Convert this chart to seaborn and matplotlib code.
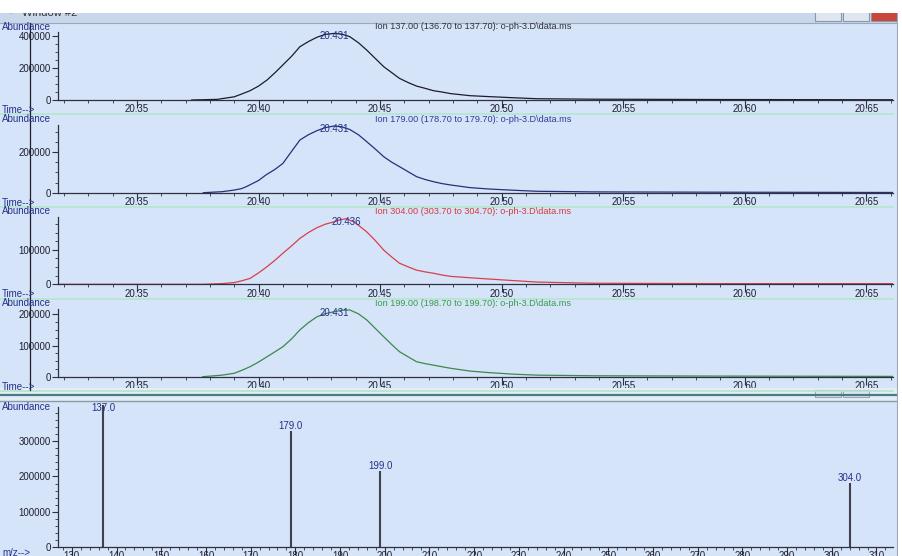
import numpy as np
import matplotlib.pyplot as plt
import seaborn as sns
from matplotlib.ticker import MultipleLocator, FormatStrFormatter
from matplotlib.patches import Rectangle
from matplotlib.lines import Line2D

# Ion 137 trace
ion137_time = [20.3725, 20.383, 20.390, 20.393, 20.3965, 20.400, 20.4035, 20.4068, 20.410,
               20.4137, 20.417, 20.4205, 20.424, 20.4274, 20.431, 20.4342, 20.4375, 20.4411,
               20.4445, 20.448, 20.4515, 20.4548, 20.458, 20.4617, 20.465, 20.4685, 20.472,
               20.4754, 20.479, 20.487, 20.495, 20.505, 20.5145, 20.538, 20.5885, 20.661]
ion137_abund = [0, 4000, 20000, 37000, 58000, 87000, 125000, 171000, 219000,
                275000, 333000, 365000, 392000, 410000, 416000, 412000, 396000, 358000,
                312000, 260000, 208000, 171000, 135000, 108000, 87000, 73000, 58000,
                50000, 40000, 27000, 21000, 14000, 8000, 5000, 3000, 1500]

# Ion 179 trace
ion179_time = [20.3773, 20.385, 20.390, 20.393, 20.395, 20.400, 20.403, 20.4068, 20.410,
               20.4137, 20.417, 20.4205, 20.424, 20.4274, 20.431, 20.4342, 20.4375, 20.4411,
               20.4445, 20.448, 20.4515, 20.4548, 20.458, 20.4617, 20.465, 20.4685, 20.472,
               20.4754, 20.479, 20.487, 20.495, 20.505, 20.5145, 20.538, 20.5885, 20.661]
ion179_abund = [0, 5000, 13000, 20000, 30000, 60000, 87000, 115000, 144000,
                205000, 259000, 285000, 305000, 320000, 328000, 324000, 311000, 285000,
                251000, 215000, 177000, 150000, 128000, 102000, 79000, 65000, 54000,
                45000, 38000, 25000, 18000, 12000, 7000, 4000, 2500, 1200]

# Ion 304 trace
ion304_time = [20.3175, 20.377, 20.385, 20.390, 20.393, 20.3965, 20.400, 20.4035, 20.4068,
               20.410, 20.4137, 20.417, 20.4205, 20.424, 20.4274, 20.431, 20.4335, 20.436,
               20.4395, 20.4445, 20.448, 20.4515, 20.4548, 20.458, 20.4617, 20.465, 20.4685,
               20.472, 20.4754, 20.479, 20.491, 20.5065, 20.5145, 20.538, 20.5885, 20.661]
ion304_abund = [0, 0, 2000, 5000, 10000, 17000, 33000, 51000, 70000,
                90000, 112000, 133000, 150000, 164000, 174000, 181000, 187000, 190000,
                180000, 152000, 127000, 99000, 79000, 61000, 50000, 41000, 36000,
                32000, 27000, 23000, 17000, 10000, 6500, 3000, 2000, 2000]

# Ion 199 trace
ion199_time = [20.377, 20.385, 20.390, 20.393, 20.3965, 20.400, 20.4035, 20.4068, 20.410,
               20.4137, 20.417, 20.4205, 20.424, 20.4274, 20.431, 20.4342, 20.4375, 20.441,
               20.4445, 20.448, 20.4515, 20.4548, 20.458, 20.4617, 20.465, 20.4685, 20.472,
               20.4754, 20.479, 20.487, 20.495, 20.505, 20.5145, 20.538, 20.5885, 20.661]
ion199_abund = [0, 5000, 11000, 20000, 32000, 47000, 64000, 80000, 96000,
                122000, 150000, 173000, 192000, 202000, 208000, 213000, 214000, 202000,
                182000, 155000, 128000, 103000, 80000, 63000, 48000, 42000, 37000,
                32000, 27000, 18000, 13000, 8000, 5000, 3000, 2000, 1000]

ion_titles = ['Ion 137.00 (136.70 to 137.70): o-ph-3.D\\data.ms',
              'Ion 179.00 (178.70 to 179.70): o-ph-3.D\\data.ms',
              'Ion 304.00 (303.70 to 304.70): o-ph-3.D\\data.ms',
              'Ion 199.00 (198.70 to 199.70): o-ph-3.D\\data.ms']
peak_labels = ['20.431', '20.431', '20.436', '20.431']

# mass spectrum
mz_values = [137.0, 179.0, 199.0, 304.0]
mz_abund = [405000, 331000, 216000, 181000]

W, H = 903, 556
bg = '#d5e4f9'
navy = '#26308a'

plt.rcParams['font.family'] = ['Liberation Sans', 'DejaVu Sans']

fig = plt.figure(figsize=(W / 100, H / 100), dpi=100, facecolor=bg)


def fx(x):
    return x / W


def fy(y):
    return 1 - y / H


def px_axes(top, bottom, left=58, right=893):
    ax = fig.add_axes([fx(left), fy(bottom), (right - left) / W, (bottom - top) / H])
    ax.set_facecolor('none')
    for s in ['top', 'right']:
        ax.spines[s].set_visible(False)
    for s in ['left', 'bottom']:
        ax.spines[s].set_color('#303040')
        ax.spines[s].set_linewidth(0.9)
    ax.tick_params(which='major', length=6, width=0.8, color='#303040',
                   labelsize=7, labelcolor='#202030')
    ax.tick_params(axis='x', which='major', pad=-2.8)
    ax.tick_params(which='minor', length=2.5, width=0.6, color='#303040')
    ax.tick_params(axis='y', which='major', length=4, pad=1)
    return ax


traces = [(ion137_time, ion137_abund), (ion179_time, ion179_abund),
          (ion304_time, ion304_abund), (ion199_time, ion199_abund)]
line_colors = ['#1c1c2c', '#28307a', '#d8404a', '#3a8a4a']
title_colors = ['#303038', '#303a9a', '#d83a3a', '#3a9a4a']
# (axis top px, axis bottom px, ymax, major step)
panels = [(32, 100, 425000, 200000), (125, 192.7, 333000, 200000),
          (217, 284.3, 195000, 100000), (309, 376.7, 217000, 100000)]

for i, (t, a) in enumerate(traces):
    top, bot, ymax, step = panels[i]
    ax = px_axes(top, bot)
    sns.lineplot(x=t, y=a, ax=ax, color=line_colors[i], linewidth=0.9)
    ax.set_xlim(20.3175, 20.661)
    ax.set_ylim(0, ymax)
    ax.xaxis.set_major_locator(MultipleLocator(0.05))
    ax.xaxis.set_minor_locator(MultipleLocator(0.01))
    ax.xaxis.set_major_formatter(FormatStrFormatter('%.2f'))
    ax.yaxis.set_major_locator(MultipleLocator(step))
    ax.yaxis.set_minor_locator(MultipleLocator(step / 4))
    ax.set_xlabel('')
    ax.set_ylabel('')
    ax.annotate(peak_labels[i], (float(peak_labels[i]), max(a)), xytext=(0, 1.5),
                textcoords='offset points', ha='center', va='top', fontsize=7,
                color=navy, annotation_clip=False)
    fig.text(fx(375), fy(top - 5.5), ion_titles[i], fontsize=6.6, color=title_colors[i],
             ha='left', va='center')
    fig.text(fx(2), fy(top - 5.5), 'Abundance', fontsize=7, color=navy, va='center')
    fig.text(fx(2), fy(bot + 10), 'Time-->', fontsize=7, color=navy, va='center')
    fig.add_artist(Line2D([0, fx(893)], [fy(bot + 14.5)] * 2, color='#b4e6cc', lw=1.2))

# mass spectrum panel
ax = px_axes(407, 546.7)
ax.vlines(mz_values, 0, mz_abund, color='#404050', linewidth=1.5, clip_on=False)
ax.set_xlim(126.9, 313.7)
ax.set_ylim(0, 398000)
ax.xaxis.set_major_locator(MultipleLocator(10))
ax.xaxis.set_minor_locator(MultipleLocator(2))
ax.yaxis.set_major_locator(MultipleLocator(100000))
ax.yaxis.set_minor_locator(MultipleLocator(20000))
for m, v in zip(mz_values, mz_abund):
    ax.annotate(f'{m:.1f}', (m, min(v, 380000)), xytext=(0, 3.5), textcoords='offset points',
                ha='center', va='center', fontsize=7, color=navy, annotation_clip=False)
fig.text(fx(2), fy(407), 'Abundance', fontsize=7, color=navy, va='center')
fig.text(fx(2), fy(553), 'm/z-->', fontsize=7, color=navy, va='center')

# window chrome
fig.add_artist(Rectangle((0, fy(401)), 1, (401 - 388) / H, transform=fig.transFigure,
                         facecolor='#e2eef4', edgecolor='none'))
fig.add_artist(Line2D([0, fx(897)], [fy(395)] * 2, color='#4a7a88', lw=1.6))
fig.add_artist(Line2D([0, fx(897)], [fy(400.5)] * 2, color='#8a98a8', lw=1.0))
for bx in [815, 843]:
    fig.add_artist(Rectangle((fx(bx), fy(397)), 26 / W, 7 / H, transform=fig.transFigure,
                             facecolor='#dfe6ef', edgecolor='#9aa8b8', lw=0.8))
fig.add_artist(Rectangle((0, fy(23)), 1, 11 / H, transform=fig.transFigure,
                         facecolor='#c9d7ea', edgecolor='none'))
fig.add_artist(Line2D([0, 1], [fy(23)] * 2, color='#9aa8ba', lw=0.8))
fig.text(fx(8), fy(13), '\u25aa', fontsize=9, color='#3aa04a', va='center')
fig.text(fx(22), fy(12.5), 'Window #2', fontsize=8, color='#303040', va='center')
for bx, fc in [(815, '#dfe6ef'), (843, '#dfe6ef'), (871, '#c8463a')]:
    fig.add_artist(Rectangle((fx(bx), fy(21)), 26 / W, 12 / H, transform=fig.transFigure,
                             facecolor=fc, edgecolor='#8898aa', lw=0.8))
fig.add_artist(Rectangle((0, fy(12.5)), 1, 12.5 / H, transform=fig.transFigure,
                         facecolor='white', edgecolor='none', zorder=10))
fig.add_artist(Rectangle((fx(898), 0), 5 / W, 1, transform=fig.transFigure,
                         facecolor='white', edgecolor='none', zorder=10))
fig.add_artist(Line2D([fx(897.5)] * 2, [0, fy(12.5)], color='#9aa8ba', lw=0.8))

# cursor line
fig.add_artist(Line2D([fx(30)] * 2, [fy(390), fy(23)], color='#202030', lw=0.9))

fig.savefig('out.png', dpi=100, facecolor=bg)
